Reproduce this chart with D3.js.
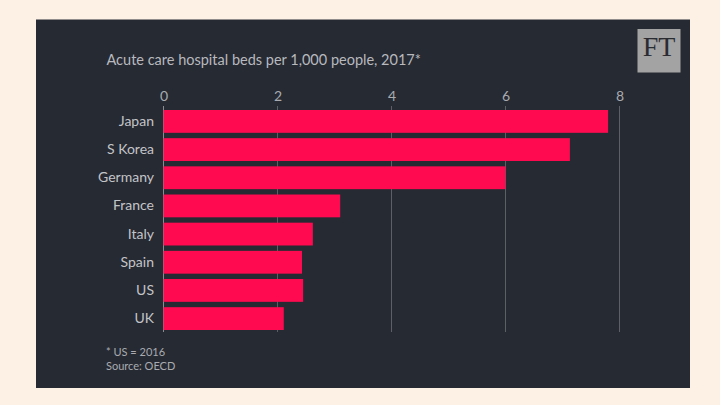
<!DOCTYPE html>
<html><head><meta charset="utf-8">
<script src="https://cdn.jsdelivr.net/npm/d3@7"></script>
<style>html,body{margin:0;padding:0;background:#fdf1e6;}svg{display:block;}</style>
</head><body>
<svg id="c" width="720" height="405"></svg>
<script>
const categories = ["Japan","S Korea","Germany","France","Italy","Spain","US","UK"];
const values = [7.8, 7.13, 6.0, 3.1, 2.62, 2.43, 2.45, 2.11];
const ticks = [0, 2, 4, 6, 8];
const title = "Acute care hospital beds per 1,000 people, 2017*";
const notes = ["* US = 2016", "Source: OECD"];

const svg = d3.select("#c");
const font = "Lato, 'Open Sans', sans-serif";
svg.append("rect").attr("width",720).attr("height",405).attr("fill","#fdf1e6");
svg.append("rect").attr("x",36).attr("y",19.5).attr("width",654).attr("height",368.5).attr("fill","#262a33");

const x = d3.scaleLinear().domain([0,8]).range([163.5,619.5]);
const y = d3.scaleBand().domain(categories).range([110,330]).paddingInner(0.19).paddingOuter(0);

// gridlines
svg.append("g").selectAll("line").data(ticks).join("line")
  .attr("x1",d=>x(d)).attr("x2",d=>x(d)).attr("y1",106).attr("y2",332)
  .attr("stroke",d=>d===0?"#8a8c92":"#5c5f66").attr("stroke-width",1);

// top axis labels
const ax = svg.append("g").attr("transform","translate(0,101)")
  .call(d3.axisTop(x).tickValues(ticks).tickSize(0).tickPadding(0).tickFormat(d3.format("d")));
ax.select(".domain").remove();
ax.selectAll("text").attr("fill","#a9abb0").attr("font-size",14).attr("font-family",font);

// bars
svg.append("g").selectAll("rect").data(categories).join("rect")
  .attr("x",x(0)).attr("y",d=>y(d)).attr("height",y.bandwidth())
  .attr("width",(d,i)=>x(values[i])-x(0)).attr("fill","#ff0a50");

// category labels
const ay = svg.append("g").attr("transform","translate(154,0)")
  .call(d3.axisLeft(y).tickSize(0).tickPadding(0));
ay.select(".domain").remove();
ay.selectAll("text").attr("fill","#c3c4c8").attr("font-size",14).attr("font-family",font);

// title
svg.append("text").attr("x",106.5).attr("y",65).text(title)
  .attr("fill","#b8b9be").attr("font-size",14.5).attr("font-family",font);

// notes
svg.append("g").selectAll("text").data(notes).join("text")
  .attr("x",106).attr("y",(d,i)=>356+i*13.5).text(d=>d)
  .attr("fill","#a9abb0").attr("font-size",11).attr("font-family",font);

// FT logo
svg.append("rect").attr("x",637.5).attr("y",29).attr("width",43).attr("height",43.5).attr("fill","#a3a3a3");
svg.append("text").attr("x",659).attr("y",55.5).attr("text-anchor","middle").text("FT")
  .attr("fill","#2b2c32").attr("font-size",28).attr("font-family","'Liberation Serif', 'DejaVu Serif', serif");
</script>
</body></html>
